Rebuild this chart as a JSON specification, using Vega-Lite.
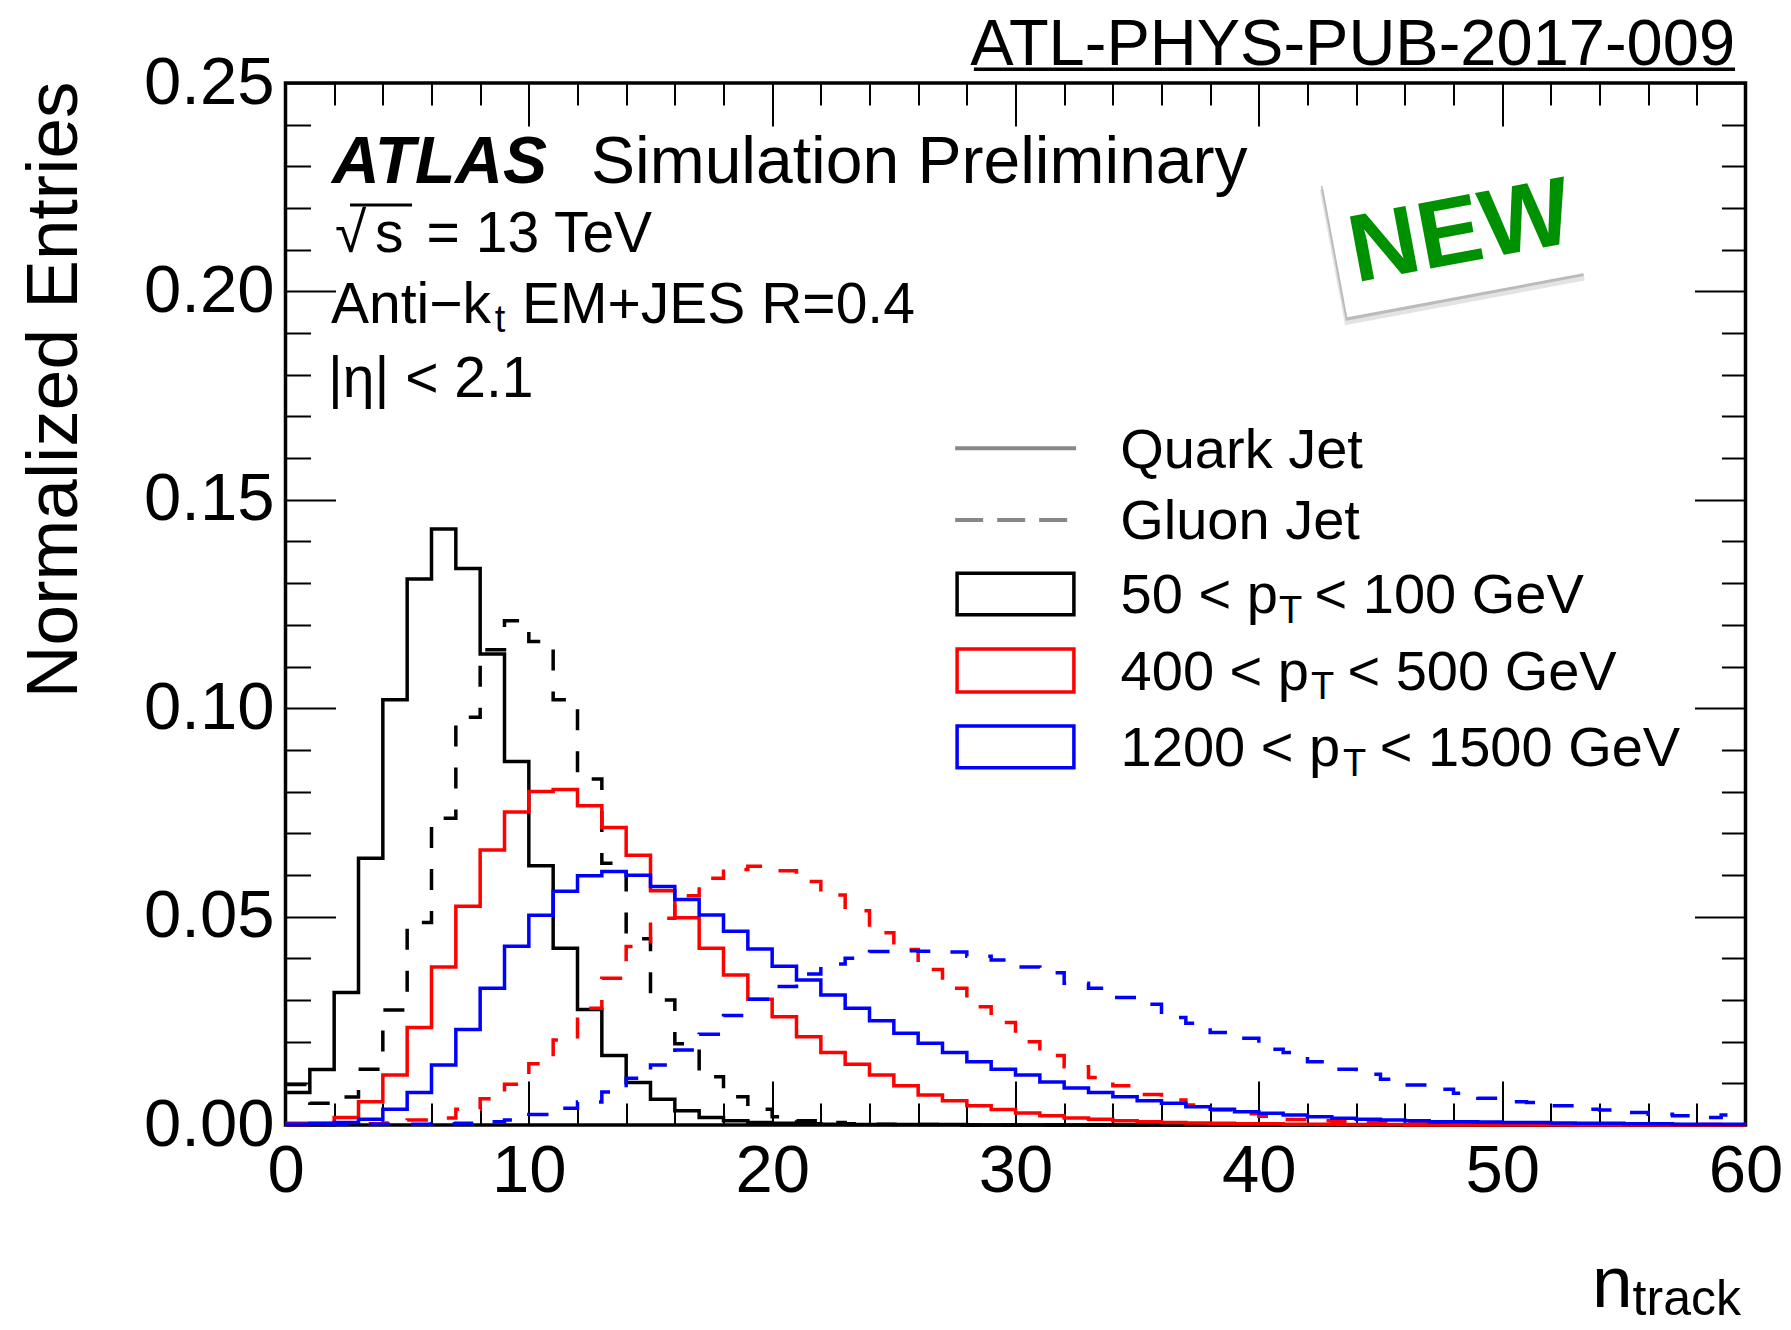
{
"$schema": "https://vega.github.io/schema/vega-lite/v6.json",
"width": 1460,
"height": 1042,
"autosize": {"type": "none"},
"padding": {"left": 285.5, "top": 83, "right": 45.5, "bottom": 205},
"background": "white",
"config": {"view": {"stroke": "black", "strokeWidth": 3.5}, "text": {"font": "Liberation Sans", "color": "black"}},
"datasets": {"hist": [
{"s":"q50","lo":0,"hi":1,"v":0.0078},{"s":"q50","lo":1,"hi":2,"v":0.0133},{"s":"q50","lo":2,"hi":3,"v":0.0318},{"s":"q50","lo":3,"hi":4,"v":0.064},{"s":"q50","lo":4,"hi":5,"v":0.102},{"s":"q50","lo":5,"hi":6,"v":0.131},{"s":"q50","lo":6,"hi":7,"v":0.143},{"s":"q50","lo":7,"hi":8,"v":0.1335},{"s":"q50","lo":8,"hi":9,"v":0.113},{"s":"q50","lo":9,"hi":10,"v":0.0872},
{"s":"q50","lo":10,"hi":11,"v":0.0622},{"s":"q50","lo":11,"hi":12,"v":0.0424},{"s":"q50","lo":12,"hi":13,"v":0.0277},{"s":"q50","lo":13,"hi":14,"v":0.0167},{"s":"q50","lo":14,"hi":15,"v":0.0102},{"s":"q50","lo":15,"hi":16,"v":0.0062},{"s":"q50","lo":16,"hi":17,"v":0.0034},{"s":"q50","lo":17,"hi":18,"v":0.0018},{"s":"q50","lo":18,"hi":19,"v":0.001},{"s":"q50","lo":19,"hi":20,"v":0.0006},
{"s":"q50","lo":20,"hi":21,"v":0.0004},{"s":"q50","lo":21,"hi":22,"v":0.0003},{"s":"q50","lo":22,"hi":23,"v":0.0002},{"s":"q50","lo":23,"hi":24,"v":0.0001},{"s":"q50","lo":24,"hi":25,"v":0.0001},{"s":"q50","lo":25,"hi":26,"v":0.0001},{"s":"q50","lo":26,"hi":27,"v":0.0001},{"s":"q50","lo":27,"hi":28,"v":0.0001},{"s":"q50","lo":28,"hi":29,"v":0},{"s":"q50","lo":29,"hi":30,"v":0},
{"s":"q50","lo":30,"hi":31,"v":0},{"s":"q50","lo":31,"hi":32,"v":0},{"s":"q50","lo":32,"hi":33,"v":0},{"s":"q50","lo":33,"hi":34,"v":0},{"s":"q50","lo":34,"hi":35,"v":0},{"s":"q50","lo":35,"hi":36,"v":0},{"s":"q50","lo":36,"hi":37,"v":0},{"s":"q50","lo":37,"hi":38,"v":0},{"s":"q50","lo":38,"hi":39,"v":0},{"s":"q50","lo":39,"hi":40,"v":0},
{"s":"q50","lo":40,"hi":41,"v":0},{"s":"q50","lo":41,"hi":42,"v":0},{"s":"q50","lo":42,"hi":43,"v":0},{"s":"q50","lo":43,"hi":44,"v":0},{"s":"q50","lo":44,"hi":45,"v":0},{"s":"q50","lo":45,"hi":46,"v":0},{"s":"q50","lo":46,"hi":47,"v":0},{"s":"q50","lo":47,"hi":48,"v":0},{"s":"q50","lo":48,"hi":49,"v":0},{"s":"q50","lo":49,"hi":50,"v":0},
{"s":"q50","lo":50,"hi":51,"v":0},{"s":"q50","lo":51,"hi":52,"v":0},{"s":"q50","lo":52,"hi":53,"v":0},{"s":"q50","lo":53,"hi":54,"v":0},{"s":"q50","lo":54,"hi":55,"v":0},{"s":"q50","lo":55,"hi":56,"v":0},{"s":"q50","lo":56,"hi":57,"v":0},{"s":"q50","lo":57,"hi":58,"v":0},{"s":"q50","lo":58,"hi":59,"v":0},{"s":"q50","lo":59,"hi":60,"v":0},
{"s":"g50","lo":0,"hi":1,"v":0.0097},{"s":"g50","lo":1,"hi":2,"v":0.0052},{"s":"g50","lo":2,"hi":3,"v":0.0067},{"s":"g50","lo":3,"hi":4,"v":0.0134},{"s":"g50","lo":4,"hi":5,"v":0.0276},{"s":"g50","lo":5,"hi":6,"v":0.0486},{"s":"g50","lo":6,"hi":7,"v":0.0736},{"s":"g50","lo":7,"hi":8,"v":0.0978},{"s":"g50","lo":8,"hi":9,"v":0.114},{"s":"g50","lo":9,"hi":10,"v":0.121},
{"s":"g50","lo":10,"hi":11,"v":0.116},{"s":"g50","lo":11,"hi":12,"v":0.102},{"s":"g50","lo":12,"hi":13,"v":0.083},{"s":"g50","lo":13,"hi":14,"v":0.0628},{"s":"g50","lo":14,"hi":15,"v":0.0447},{"s":"g50","lo":15,"hi":16,"v":0.030},{"s":"g50","lo":16,"hi":17,"v":0.0195},{"s":"g50","lo":17,"hi":18,"v":0.0116},{"s":"g50","lo":18,"hi":19,"v":0.0068},{"s":"g50","lo":19,"hi":20,"v":0.0038},
{"s":"g50","lo":20,"hi":21,"v":0.002},{"s":"g50","lo":21,"hi":22,"v":0.001},{"s":"g50","lo":22,"hi":23,"v":0.0006},{"s":"g50","lo":23,"hi":24,"v":0.0003},{"s":"g50","lo":24,"hi":25,"v":0.0002},{"s":"g50","lo":25,"hi":26,"v":0.0001},{"s":"g50","lo":26,"hi":27,"v":0.0001},{"s":"g50","lo":27,"hi":28,"v":0},{"s":"g50","lo":28,"hi":29,"v":0},{"s":"g50","lo":29,"hi":30,"v":0},
{"s":"g50","lo":30,"hi":31,"v":0},{"s":"g50","lo":31,"hi":32,"v":0},{"s":"g50","lo":32,"hi":33,"v":0},{"s":"g50","lo":33,"hi":34,"v":0},{"s":"g50","lo":34,"hi":35,"v":0},{"s":"g50","lo":35,"hi":36,"v":0},{"s":"g50","lo":36,"hi":37,"v":0},{"s":"g50","lo":37,"hi":38,"v":0},{"s":"g50","lo":38,"hi":39,"v":0},{"s":"g50","lo":39,"hi":40,"v":0},
{"s":"g50","lo":40,"hi":41,"v":0},{"s":"g50","lo":41,"hi":42,"v":0},{"s":"g50","lo":42,"hi":43,"v":0},{"s":"g50","lo":43,"hi":44,"v":0},{"s":"g50","lo":44,"hi":45,"v":0},{"s":"g50","lo":45,"hi":46,"v":0},{"s":"g50","lo":46,"hi":47,"v":0},{"s":"g50","lo":47,"hi":48,"v":0},{"s":"g50","lo":48,"hi":49,"v":0},{"s":"g50","lo":49,"hi":50,"v":0},
{"s":"g50","lo":50,"hi":51,"v":0},{"s":"g50","lo":51,"hi":52,"v":0},{"s":"g50","lo":52,"hi":53,"v":0},{"s":"g50","lo":53,"hi":54,"v":0},{"s":"g50","lo":54,"hi":55,"v":0},{"s":"g50","lo":55,"hi":56,"v":0},{"s":"g50","lo":56,"hi":57,"v":0},{"s":"g50","lo":57,"hi":58,"v":0},{"s":"g50","lo":58,"hi":59,"v":0},{"s":"g50","lo":59,"hi":60,"v":0},
{"s":"q400","lo":0,"hi":1,"v":0.0004},{"s":"q400","lo":1,"hi":2,"v":0.0005},{"s":"q400","lo":2,"hi":3,"v":0.0018},{"s":"q400","lo":3,"hi":4,"v":0.0056},{"s":"q400","lo":4,"hi":5,"v":0.012},{"s":"q400","lo":5,"hi":6,"v":0.0234},{"s":"q400","lo":6,"hi":7,"v":0.0379},{"s":"q400","lo":7,"hi":8,"v":0.0525},{"s":"q400","lo":8,"hi":9,"v":0.066},{"s":"q400","lo":9,"hi":10,"v":0.0751},
{"s":"q400","lo":10,"hi":11,"v":0.080},{"s":"q400","lo":11,"hi":12,"v":0.0805},{"s":"q400","lo":12,"hi":13,"v":0.0766},{"s":"q400","lo":13,"hi":14,"v":0.0714},{"s":"q400","lo":14,"hi":15,"v":0.0647},{"s":"q400","lo":15,"hi":16,"v":0.0562},{"s":"q400","lo":16,"hi":17,"v":0.0497},{"s":"q400","lo":17,"hi":18,"v":0.0424},{"s":"q400","lo":18,"hi":19,"v":0.036},{"s":"q400","lo":19,"hi":20,"v":0.0302},
{"s":"q400","lo":20,"hi":21,"v":0.026},{"s":"q400","lo":21,"hi":22,"v":0.0212},{"s":"q400","lo":22,"hi":23,"v":0.0174},{"s":"q400","lo":23,"hi":24,"v":0.0146},{"s":"q400","lo":24,"hi":25,"v":0.012},{"s":"q400","lo":25,"hi":26,"v":0.0094},{"s":"q400","lo":26,"hi":27,"v":0.0072},{"s":"q400","lo":27,"hi":28,"v":0.0058},{"s":"q400","lo":28,"hi":29,"v":0.0046},{"s":"q400","lo":29,"hi":30,"v":0.0037},
{"s":"q400","lo":30,"hi":31,"v":0.0029},{"s":"q400","lo":31,"hi":32,"v":0.0022},{"s":"q400","lo":32,"hi":33,"v":0.0017},{"s":"q400","lo":33,"hi":34,"v":0.0014},{"s":"q400","lo":34,"hi":35,"v":0.001},{"s":"q400","lo":35,"hi":36,"v":0.0008},{"s":"q400","lo":36,"hi":37,"v":0.0006},{"s":"q400","lo":37,"hi":38,"v":0.0005},{"s":"q400","lo":38,"hi":39,"v":0.0004},{"s":"q400","lo":39,"hi":40,"v":0.0003},
{"s":"q400","lo":40,"hi":41,"v":0.0003},{"s":"q400","lo":41,"hi":42,"v":0.0002},{"s":"q400","lo":42,"hi":43,"v":0.0002},{"s":"q400","lo":43,"hi":44,"v":0.0001},{"s":"q400","lo":44,"hi":45,"v":0.0001},{"s":"q400","lo":45,"hi":46,"v":0.0001},{"s":"q400","lo":46,"hi":47,"v":0},{"s":"q400","lo":47,"hi":48,"v":0},{"s":"q400","lo":48,"hi":49,"v":0},{"s":"q400","lo":49,"hi":50,"v":0},
{"s":"q400","lo":50,"hi":51,"v":0},{"s":"q400","lo":51,"hi":52,"v":0},{"s":"q400","lo":52,"hi":53,"v":0},{"s":"q400","lo":53,"hi":54,"v":0},{"s":"q400","lo":54,"hi":55,"v":0},{"s":"q400","lo":55,"hi":56,"v":0},{"s":"q400","lo":56,"hi":57,"v":0},{"s":"q400","lo":57,"hi":58,"v":0},{"s":"q400","lo":58,"hi":59,"v":0},{"s":"q400","lo":59,"hi":60,"v":0},
{"s":"g400","lo":0,"hi":1,"v":0.0001},{"s":"g400","lo":1,"hi":2,"v":0.0002},{"s":"g400","lo":2,"hi":3,"v":0.0002},{"s":"g400","lo":3,"hi":4,"v":0.0003},{"s":"g400","lo":4,"hi":5,"v":0.0005},{"s":"g400","lo":5,"hi":6,"v":0.0012},{"s":"g400","lo":6,"hi":7,"v":0.0017},{"s":"g400","lo":7,"hi":8,"v":0.0038},{"s":"g400","lo":8,"hi":9,"v":0.0063},{"s":"g400","lo":9,"hi":10,"v":0.0098},
{"s":"g400","lo":10,"hi":11,"v":0.0147},{"s":"g400","lo":11,"hi":12,"v":0.0204},{"s":"g400","lo":12,"hi":13,"v":0.028},{"s":"g400","lo":13,"hi":14,"v":0.0352},{"s":"g400","lo":14,"hi":15,"v":0.0428},{"s":"g400","lo":15,"hi":16,"v":0.0496},{"s":"g400","lo":16,"hi":17,"v":0.055},{"s":"g400","lo":17,"hi":18,"v":0.0592},{"s":"g400","lo":18,"hi":19,"v":0.0613},{"s":"g400","lo":19,"hi":20,"v":0.0621},
{"s":"g400","lo":20,"hi":21,"v":0.061},{"s":"g400","lo":21,"hi":22,"v":0.0584},{"s":"g400","lo":22,"hi":23,"v":0.0552},{"s":"g400","lo":23,"hi":24,"v":0.0514},{"s":"g400","lo":24,"hi":25,"v":0.0461},{"s":"g400","lo":25,"hi":26,"v":0.0421},{"s":"g400","lo":26,"hi":27,"v":0.0373},{"s":"g400","lo":27,"hi":28,"v":0.0328},{"s":"g400","lo":28,"hi":29,"v":0.0284},{"s":"g400","lo":29,"hi":30,"v":0.0246},
{"s":"g400","lo":30,"hi":31,"v":0.020},{"s":"g400","lo":31,"hi":32,"v":0.0167},{"s":"g400","lo":32,"hi":33,"v":0.014},{"s":"g400","lo":33,"hi":34,"v":0.0114},{"s":"g400","lo":34,"hi":35,"v":0.0094},{"s":"g400","lo":35,"hi":36,"v":0.0073},{"s":"g400","lo":36,"hi":37,"v":0.006},{"s":"g400","lo":37,"hi":38,"v":0.0048},{"s":"g400","lo":38,"hi":39,"v":0.0036},{"s":"g400","lo":39,"hi":40,"v":0.0027},
{"s":"g400","lo":40,"hi":41,"v":0.0021},{"s":"g400","lo":41,"hi":42,"v":0.0013},{"s":"g400","lo":42,"hi":43,"v":0.001},{"s":"g400","lo":43,"hi":44,"v":0.0008},{"s":"g400","lo":44,"hi":45,"v":0.0006},{"s":"g400","lo":45,"hi":46,"v":0.0005},{"s":"g400","lo":46,"hi":47,"v":0.0005},{"s":"g400","lo":47,"hi":48,"v":0.0004},{"s":"g400","lo":48,"hi":49,"v":0.0003},{"s":"g400","lo":49,"hi":50,"v":0.0003},
{"s":"g400","lo":50,"hi":51,"v":0.0002},{"s":"g400","lo":51,"hi":52,"v":0.0002},{"s":"g400","lo":52,"hi":53,"v":0.0002},{"s":"g400","lo":53,"hi":54,"v":0.0001},{"s":"g400","lo":54,"hi":55,"v":0.0001},{"s":"g400","lo":55,"hi":56,"v":0.0001},{"s":"g400","lo":56,"hi":57,"v":0.0001},{"s":"g400","lo":57,"hi":58,"v":0.0001},{"s":"g400","lo":58,"hi":59,"v":0.0001},{"s":"g400","lo":59,"hi":60,"v":0.0001},
{"s":"q1200","lo":0,"hi":1,"v":0.0002},{"s":"q1200","lo":1,"hi":2,"v":0.0003},{"s":"q1200","lo":2,"hi":3,"v":0.0006},{"s":"q1200","lo":3,"hi":4,"v":0.0014},{"s":"q1200","lo":4,"hi":5,"v":0.0038},{"s":"q1200","lo":5,"hi":6,"v":0.0078},{"s":"q1200","lo":6,"hi":7,"v":0.0144},{"s":"q1200","lo":7,"hi":8,"v":0.0229},{"s":"q1200","lo":8,"hi":9,"v":0.0328},{"s":"q1200","lo":9,"hi":10,"v":0.0429},
{"s":"q1200","lo":10,"hi":11,"v":0.0503},{"s":"q1200","lo":11,"hi":12,"v":0.0561},{"s":"q1200","lo":12,"hi":13,"v":0.0598},{"s":"q1200","lo":13,"hi":14,"v":0.0608},{"s":"q1200","lo":14,"hi":15,"v":0.0599},{"s":"q1200","lo":15,"hi":16,"v":0.0572},{"s":"q1200","lo":16,"hi":17,"v":0.0541},{"s":"q1200","lo":17,"hi":18,"v":0.0504},{"s":"q1200","lo":18,"hi":19,"v":0.0465},{"s":"q1200","lo":19,"hi":20,"v":0.0422},
{"s":"q1200","lo":20,"hi":21,"v":0.0381},{"s":"q1200","lo":21,"hi":22,"v":0.0348},{"s":"q1200","lo":22,"hi":23,"v":0.0312},{"s":"q1200","lo":23,"hi":24,"v":0.028},{"s":"q1200","lo":24,"hi":25,"v":0.025},{"s":"q1200","lo":25,"hi":26,"v":0.022},{"s":"q1200","lo":26,"hi":27,"v":0.0196},{"s":"q1200","lo":27,"hi":28,"v":0.0174},{"s":"q1200","lo":28,"hi":29,"v":0.0152},{"s":"q1200","lo":29,"hi":30,"v":0.0134},
{"s":"q1200","lo":30,"hi":31,"v":0.012},{"s":"q1200","lo":31,"hi":32,"v":0.0103},{"s":"q1200","lo":32,"hi":33,"v":0.0089},{"s":"q1200","lo":33,"hi":34,"v":0.0078},{"s":"q1200","lo":34,"hi":35,"v":0.0068},{"s":"q1200","lo":35,"hi":36,"v":0.0058},{"s":"q1200","lo":36,"hi":37,"v":0.0052},{"s":"q1200","lo":37,"hi":38,"v":0.0044},{"s":"q1200","lo":38,"hi":39,"v":0.0038},{"s":"q1200","lo":39,"hi":40,"v":0.0032},
{"s":"q1200","lo":40,"hi":41,"v":0.0028},{"s":"q1200","lo":41,"hi":42,"v":0.0024},{"s":"q1200","lo":42,"hi":43,"v":0.002},{"s":"q1200","lo":43,"hi":44,"v":0.0016},{"s":"q1200","lo":44,"hi":45,"v":0.0014},{"s":"q1200","lo":45,"hi":46,"v":0.0012},{"s":"q1200","lo":46,"hi":47,"v":0.001},{"s":"q1200","lo":47,"hi":48,"v":0.0008},{"s":"q1200","lo":48,"hi":49,"v":0.0008},{"s":"q1200","lo":49,"hi":50,"v":0.0007},
{"s":"q1200","lo":50,"hi":51,"v":0.0006},{"s":"q1200","lo":51,"hi":52,"v":0.0006},{"s":"q1200","lo":52,"hi":53,"v":0.0005},{"s":"q1200","lo":53,"hi":54,"v":0.0004},{"s":"q1200","lo":54,"hi":55,"v":0.0004},{"s":"q1200","lo":55,"hi":56,"v":0.0003},{"s":"q1200","lo":56,"hi":57,"v":0.0003},{"s":"q1200","lo":57,"hi":58,"v":0.0002},{"s":"q1200","lo":58,"hi":59,"v":0.0002},{"s":"q1200","lo":59,"hi":60,"v":0.0002},
{"s":"g1200","lo":0,"hi":1,"v":0.0001},{"s":"g1200","lo":1,"hi":2,"v":0.0001},{"s":"g1200","lo":2,"hi":3,"v":0.0001},{"s":"g1200","lo":3,"hi":4,"v":0.0002},{"s":"g1200","lo":4,"hi":5,"v":0.0002},{"s":"g1200","lo":5,"hi":6,"v":0.0002},{"s":"g1200","lo":6,"hi":7,"v":0.0003},{"s":"g1200","lo":7,"hi":8,"v":0.0004},{"s":"g1200","lo":8,"hi":9,"v":0.0008},{"s":"g1200","lo":9,"hi":10,"v":0.0012},
{"s":"g1200","lo":10,"hi":11,"v":0.0025},{"s":"g1200","lo":11,"hi":12,"v":0.004},{"s":"g1200","lo":12,"hi":13,"v":0.0055},{"s":"g1200","lo":13,"hi":14,"v":0.0079},{"s":"g1200","lo":14,"hi":15,"v":0.0112},{"s":"g1200","lo":15,"hi":16,"v":0.0144},{"s":"g1200","lo":16,"hi":17,"v":0.018},{"s":"g1200","lo":17,"hi":18,"v":0.0218},{"s":"g1200","lo":18,"hi":19,"v":0.0263},{"s":"g1200","lo":19,"hi":20,"v":0.0302},
{"s":"g1200","lo":20,"hi":21,"v":0.0332},{"s":"g1200","lo":21,"hi":22,"v":0.0362},{"s":"g1200","lo":22,"hi":23,"v":0.0386},{"s":"g1200","lo":23,"hi":24,"v":0.040},{"s":"g1200","lo":24,"hi":25,"v":0.0416},{"s":"g1200","lo":25,"hi":26,"v":0.0418},{"s":"g1200","lo":26,"hi":27,"v":0.0417},{"s":"g1200","lo":27,"hi":28,"v":0.0415},{"s":"g1200","lo":28,"hi":29,"v":0.0405},{"s":"g1200","lo":29,"hi":30,"v":0.0396},
{"s":"g1200","lo":30,"hi":31,"v":0.0379},{"s":"g1200","lo":31,"hi":32,"v":0.0365},{"s":"g1200","lo":32,"hi":33,"v":0.034},{"s":"g1200","lo":33,"hi":34,"v":0.0328},{"s":"g1200","lo":34,"hi":35,"v":0.0306},{"s":"g1200","lo":35,"hi":36,"v":0.029},{"s":"g1200","lo":36,"hi":37,"v":0.0258},{"s":"g1200","lo":37,"hi":38,"v":0.0244},{"s":"g1200","lo":38,"hi":39,"v":0.0222},{"s":"g1200","lo":39,"hi":40,"v":0.0208},
{"s":"g1200","lo":40,"hi":41,"v":0.0182},{"s":"g1200","lo":41,"hi":42,"v":0.0174},{"s":"g1200","lo":42,"hi":43,"v":0.0152},{"s":"g1200","lo":43,"hi":44,"v":0.0134},{"s":"g1200","lo":44,"hi":45,"v":0.0122},{"s":"g1200","lo":45,"hi":46,"v":0.011},{"s":"g1200","lo":46,"hi":47,"v":0.0096},{"s":"g1200","lo":47,"hi":48,"v":0.0086},{"s":"g1200","lo":48,"hi":49,"v":0.0076},{"s":"g1200","lo":49,"hi":50,"v":0.0064},
{"s":"g1200","lo":50,"hi":51,"v":0.0056},{"s":"g1200","lo":51,"hi":52,"v":0.0054},{"s":"g1200","lo":52,"hi":53,"v":0.0046},{"s":"g1200","lo":53,"hi":54,"v":0.0038},{"s":"g1200","lo":54,"hi":55,"v":0.0036},{"s":"g1200","lo":55,"hi":56,"v":0.003},{"s":"g1200","lo":56,"hi":57,"v":0.0026},{"s":"g1200","lo":57,"hi":58,"v":0.0022},{"s":"g1200","lo":58,"hi":59,"v":0.0018},{"s":"g1200","lo":59,"hi":60,"v":0.0024}
]},
"data": {"values": [{}]},
"resolve": {"axis": {"x": "independent", "y": "independent"}},
"layer": [
{
"data": {"name": "hist"},
"transform": [{"fold": ["lo", "hi"], "as": ["edge", "n"]}],
"mark": {"type": "line", "strokeWidth": 3.5, "interpolate": "linear", "clip": false},
"encoding": {
"x": {"field": "n", "type": "quantitative", "scale": {"domain": [0, 60], "nice": false, "zero": false},
"axis": {"orient": "bottom", "values": [0,2,4,6,8,10,12,14,16,18,20,22,24,26,28,30,32,34,36,38,40,42,44,46,48,50,52,54,56,58,60],
"tickSize": {"condition": {"test": "datum.value % 10 === 0", "value": -44}, "value": -22},
"tickWidth": 2, "tickColor": "black", "format": "d",
"labelExpr": "datum.value % 10 === 0 ? datum.label : ''",
"labelFont": "Liberation Sans", "labelFontSize": 67, "labelColor": "black", "labelPadding": 57,
"labelFlush": false, "labelOverlap": false, "labelBound": false, "domain": false, "grid": false, "title": null}},
"y": {"field": "v", "type": "quantitative", "scale": {"domain": [0, 0.25], "nice": false, "zero": false},
"axis": {"orient": "left", "values": [0,0.01,0.02,0.03,0.04,0.05,0.06,0.07,0.08,0.09,0.1,0.11,0.12,0.13,0.14,0.15,0.16,0.17,0.18,0.19,0.2,0.21,0.22,0.23,0.24,0.25],
"format": ".2f",
"tickSize": {"condition": {"test": "round(datum.value*100) % 5 === 0", "value": -50}, "value": -25},
"tickWidth": 2, "tickColor": "black",
"labelExpr": "round(datum.value*100) % 5 === 0 ? datum.label : ''",
"labelFont": "Liberation Sans", "labelFontSize": 67, "labelColor": "black", "labelPadding": 61.5,
"labelFlush": false, "labelOverlap": false, "labelBound": false, "domain": false, "grid": false,
"title": "Normalized Entries", "titleFont": "Liberation Sans", "titleFontSize": 73, "titleFontWeight": "normal", "titleColor": "black",
"titleAngle": -90, "titleAlign": "right", "titleBaseline": "alphabetic", "titleX": -209, "titleY": -2}},
"detail": {"field": "s", "type": "nominal"},
"stroke": {"field": "s", "type": "nominal", "scale": {"domain": ["q50","g50","q400","g400","q1200","g1200"], "range": ["#000000","#000000","#ff0000","#ff0000","#0000ff","#0000ff"]}, "legend": null},
"strokeDash": {"field": "s", "type": "nominal", "scale": {"domain": ["q50","g50","q400","g400","q1200","g1200"], "range": [[1,0],[21,21],[1,0],[21,21],[1,0],[21,21]]}, "legend": null},
"order": [{"field": "n", "type": "quantitative"}, {"field": "edge", "type": "nominal"}]
}
},
{
"mark": {"type": "rule", "strokeWidth": 3.5, "color": "black"},
"encoding": {
"x": {"datum": 28.29, "type": "quantitative",
"axis": {"orient": "top", "values": [0,2,4,6,8,10,12,14,16,18,20,22,24,26,28,30,32,34,36,38,40,42,44,46,48,50,52,54,56,58,60],
"tickSize": {"condition": {"test": "datum.value % 10 === 0", "value": -43}, "value": -22},
"tickWidth": 2, "tickColor": "black", "labels": false, "domain": false, "grid": false, "title": null}},
"x2": {"datum": 59.57},
"y": {"datum": 0.25329, "type": "quantitative",
"axis": {"orient": "right", "values": [0,0.01,0.02,0.03,0.04,0.05,0.06,0.07,0.08,0.09,0.1,0.11,0.12,0.13,0.14,0.15,0.16,0.17,0.18,0.19,0.2,0.21,0.22,0.23,0.24,0.25],
"tickSize": {"condition": {"test": "round(datum.value*100) % 5 === 0", "value": -51}, "value": -24},
"tickWidth": 2, "tickColor": "black", "labels": false, "domain": false, "grid": false, "title": null}}
}
},
{"mark": {"type": "text", "text": "ATL-PHYS-PUB-2017-009", "fontSize": 65, "align": "right", "baseline": "alphabetic"},
"encoding": {"x": {"datum": 59.57, "type": "quantitative", "axis": null}, "y": {"datum": 0.25432, "type": "quantitative", "axis": null}}},
{"mark": {"type": "text", "text": "ATLAS", "fontSize": 66, "fontWeight": "bold", "fontStyle": "italic", "align": "left", "baseline": "alphabetic"},
"encoding": {"x": {"datum": 1.91, "type": "quantitative", "axis": null}, "y": {"datum": 0.2261, "type": "quantitative", "axis": null}}},
{"mark": {"type": "text", "text": "Simulation Preliminary", "fontSize": 66, "align": "left", "baseline": "alphabetic"},
"encoding": {"x": {"datum": 12.555, "type": "quantitative", "axis": null}, "y": {"datum": 0.2261, "type": "quantitative", "axis": null}}},
{"mark": {"type": "text", "text": "√", "fontSize": 57, "align": "left", "baseline": "alphabetic"},
"encoding": {"x": {"datum": 2.035, "type": "quantitative", "axis": null}, "y": {"datum": 0.2095, "type": "quantitative", "axis": null}}},
{"mark": {"type": "text", "text": "s", "fontSize": 57, "align": "left", "baseline": "alphabetic"},
"encoding": {"x": {"datum": 3.678, "type": "quantitative", "axis": null}, "y": {"datum": 0.2095, "type": "quantitative", "axis": null}}},
{"mark": {"type": "rule", "strokeWidth": 3, "color": "black"},
"encoding": {"x": {"datum": 2.65, "type": "quantitative", "axis": null}, "x2": {"datum": 5.2}, "y": {"datum": 0.2207, "type": "quantitative", "axis": null}}},
{"mark": {"type": "text", "text": "= 13 TeV", "fontSize": 57, "align": "left", "baseline": "alphabetic"},
"encoding": {"x": {"datum": 5.798, "type": "quantitative", "axis": null}, "y": {"datum": 0.2095, "type": "quantitative", "axis": null}}},
{"mark": {"type": "text", "text": "Anti−k", "fontSize": 57, "align": "left", "baseline": "alphabetic"},
"encoding": {"x": {"datum": 1.87, "type": "quantitative", "axis": null}, "y": {"datum": 0.19234, "type": "quantitative", "axis": null}}},
{"mark": {"type": "text", "text": "t", "fontSize": 38, "align": "left", "baseline": "alphabetic"},
"encoding": {"x": {"datum": 8.6, "type": "quantitative", "axis": null}, "y": {"datum": 0.19033, "type": "quantitative", "axis": null}}},
{"mark": {"type": "text", "text": "EM+JES R=0.4", "fontSize": 57, "align": "left", "baseline": "alphabetic"},
"encoding": {"x": {"datum": 9.72, "type": "quantitative", "axis": null}, "y": {"datum": 0.19234, "type": "quantitative", "axis": null}}},
{"mark": {"type": "text", "text": "|η| < 2.1", "fontSize": 57, "align": "left", "baseline": "alphabetic"},
"encoding": {"x": {"datum": 1.747, "type": "quantitative", "axis": null}, "y": {"datum": 0.17474, "type": "quantitative", "axis": null}}},
{"mark": {"type": "rule", "strokeWidth": 4, "color": "#888888"},
"encoding": {"x": {"datum": 27.52, "type": "quantitative", "axis": null}, "x2": {"datum": 32.49}, "y": {"datum": 0.16235, "type": "quantitative", "axis": null}}},
{"mark": {"type": "rule", "strokeWidth": 4, "color": "#888888", "strokeDash": [28, 14]},
"encoding": {"x": {"datum": 27.52, "type": "quantitative", "axis": null}, "x2": {"datum": 32.49}, "y": {"datum": 0.14515, "type": "quantitative", "axis": null}}},
{"mark": {"type": "rect", "fill": "transparent", "stroke": "#000000", "strokeWidth": 3.5},
"encoding": {"x": {"datum": 27.6, "type": "quantitative", "axis": null}, "x2": {"datum": 32.4}, "y": {"datum": 0.1324, "type": "quantitative", "axis": null}, "y2": {"datum": 0.1224}}},
{"mark": {"type": "rect", "fill": "transparent", "stroke": "#ff0000", "strokeWidth": 3.5},
"encoding": {"x": {"datum": 27.6, "type": "quantitative", "axis": null}, "x2": {"datum": 32.4}, "y": {"datum": 0.1142, "type": "quantitative", "axis": null}, "y2": {"datum": 0.1039}}},
{"mark": {"type": "rect", "fill": "transparent", "stroke": "#0000ff", "strokeWidth": 3.5},
"encoding": {"x": {"datum": 27.6, "type": "quantitative", "axis": null}, "x2": {"datum": 32.4}, "y": {"datum": 0.0957, "type": "quantitative", "axis": null}, "y2": {"datum": 0.0857}}},
{"mark": {"type": "text", "text": "Quark Jet", "fontSize": 56, "align": "left", "baseline": "alphabetic"},
"encoding": {"x": {"datum": 34.3, "type": "quantitative", "axis": null}, "y": {"datum": 0.15756, "type": "quantitative", "axis": null}}},
{"mark": {"type": "text", "text": "Gluon Jet", "fontSize": 56, "align": "left", "baseline": "alphabetic"},
"encoding": {"x": {"datum": 34.3, "type": "quantitative", "axis": null}, "y": {"datum": 0.14053, "type": "quantitative", "axis": null}}},
{"mark": {"type": "text", "text": "50 < p", "fontSize": 56, "align": "left", "baseline": "alphabetic"},
"encoding": {"x": {"datum": 34.32, "type": "quantitative", "axis": null}, "y": {"datum": 0.12277, "type": "quantitative", "axis": null}}},
{"mark": {"type": "text", "text": "T", "fontSize": 38, "align": "left", "baseline": "alphabetic"},
"encoding": {"x": {"datum": 40.83, "type": "quantitative", "axis": null}, "y": {"datum": 0.12048, "type": "quantitative", "axis": null}}},
{"mark": {"type": "text", "text": "< 100 GeV", "fontSize": 56, "align": "left", "baseline": "alphabetic"},
"encoding": {"x": {"datum": 42.29, "type": "quantitative", "axis": null}, "y": {"datum": 0.12277, "type": "quantitative", "axis": null}}},
{"mark": {"type": "text", "text": "400 < p", "fontSize": 56, "align": "left", "baseline": "alphabetic"},
"encoding": {"x": {"datum": 34.32, "type": "quantitative", "axis": null}, "y": {"datum": 0.10437, "type": "quantitative", "axis": null}}},
{"mark": {"type": "text", "text": "T", "fontSize": 38, "align": "left", "baseline": "alphabetic"},
"encoding": {"x": {"datum": 42.14, "type": "quantitative", "axis": null}, "y": {"datum": 0.10209, "type": "quantitative", "axis": null}}},
{"mark": {"type": "text", "text": "< 500 GeV", "fontSize": 56, "align": "left", "baseline": "alphabetic"},
"encoding": {"x": {"datum": 43.64, "type": "quantitative", "axis": null}, "y": {"datum": 0.10437, "type": "quantitative", "axis": null}}},
{"mark": {"type": "text", "text": "1200 < p", "fontSize": 56, "align": "left", "baseline": "alphabetic"},
"encoding": {"x": {"datum": 34.32, "type": "quantitative", "axis": null}, "y": {"datum": 0.08613, "type": "quantitative", "axis": null}}},
{"mark": {"type": "text", "text": "T", "fontSize": 38, "align": "left", "baseline": "alphabetic"},
"encoding": {"x": {"datum": 43.46, "type": "quantitative", "axis": null}, "y": {"datum": 0.08385, "type": "quantitative", "axis": null}}},
{"mark": {"type": "text", "text": "< 1500 GeV", "fontSize": 56, "align": "left", "baseline": "alphabetic"},
"encoding": {"x": {"datum": 44.97, "type": "quantitative", "axis": null}, "y": {"datum": 0.08613, "type": "quantitative", "axis": null}}},
{"mark": {"type": "point", "shape": "M-1,-0.566L1,-0.566L1,0.566L-1,0.566Z", "size": 59500, "angle": -10.6, "filled": true, "color": "#b0b0b0", "opacity": 0.35, "strokeWidth": 0, "xOffset": -1, "yOffset": 7},
"encoding": {"x": {"datum": 47.99, "type": "quantitative", "axis": null}, "y": {"datum": 0.2152, "type": "quantitative", "axis": null}}},
{"mark": {"type": "point", "shape": "M-1,-0.566L1,-0.566L1,0.566L-1,0.566Z", "size": 58600, "angle": -10.6, "filled": true, "color": "#8a8a8a", "opacity": 0.45, "strokeWidth": 0, "xOffset": -1, "yOffset": 3},
"encoding": {"x": {"datum": 47.99, "type": "quantitative", "axis": null}, "y": {"datum": 0.2152, "type": "quantitative", "axis": null}}},
{"mark": {"type": "point", "shape": "M-1,-0.566L1,-0.566L1,0.566L-1,0.566Z", "size": 58177, "angle": -10.6, "filled": true, "color": "#ffffff", "opacity": 1, "strokeWidth": 0},
"encoding": {"x": {"datum": 47.99, "type": "quantitative", "axis": null}, "y": {"datum": 0.2152, "type": "quantitative", "axis": null}}},
{"mark": {"type": "text", "text": "NEW", "fontSize": 96, "fontWeight": "bold", "color": "#009100", "angle": -10.6, "align": "center", "baseline": "alphabetic"},
"encoding": {"x": {"datum": 48.51, "type": "quantitative", "axis": null}, "y": {"datum": 0.2071, "type": "quantitative", "axis": null}}},
{"mark": {"type": "text", "text": "n", "fontSize": 73, "align": "left", "baseline": "alphabetic"},
"encoding": {"x": {"datum": 53.69, "type": "quantitative", "axis": null}, "y": {"datum": -0.04367, "type": "quantitative", "axis": null}}},
{"mark": {"type": "text", "text": "track", "fontSize": 50, "align": "left", "baseline": "alphabetic"},
"encoding": {"x": {"datum": 55.36, "type": "quantitative", "axis": null}, "y": {"datum": -0.04559, "type": "quantitative", "axis": null}}}
]
}
